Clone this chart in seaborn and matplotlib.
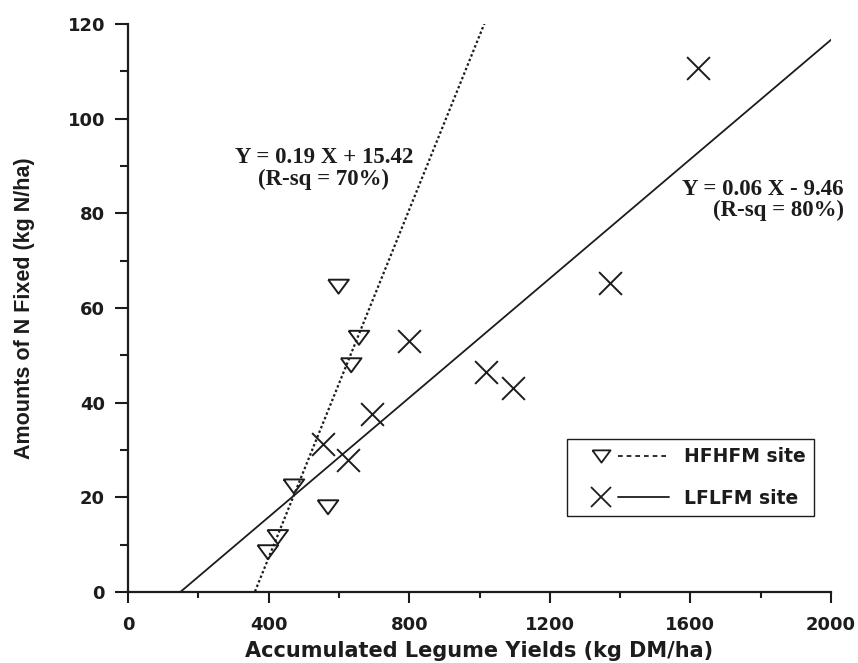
import matplotlib
matplotlib.use("Agg")
import matplotlib.pyplot as plt
import seaborn as sns
from matplotlib.lines import Line2D
from matplotlib.legend_handler import HandlerTuple
from matplotlib.ticker import MultipleLocator

# Accumulated legume yield (kg DM/ha) and N fixed (kg N/ha) per site
hfhfm_yield = [599, 657, 635, 472, 569, 426, 398]
hfhfm_nfix = [64.5, 53.7, 47.9, 22.3, 17.9, 11.6, 8.4]
lflfm_yield = [799, 694, 555, 626, 1370, 1018, 1096, 1621]
lflfm_nfix = [53.0, 37.6, 31.3, 27.8, 65.2, 46.4, 43.1, 110.8]

x_ticks = [0, 400, 800, 1200, 1600, 2000]
y_ticks = [0, 20, 40, 60, 80, 100, 120]
site_labels = ["HFHFM site", "LFLFM site"]
eq_hfhfm = "Y = 0.19 X + 15.42\n(R-sq = 70%)"
eq_lflfm = "Y = 0.06 X - 9.46\n(R-sq = 80%)"
x_title = "Accumulated Legume Yields (kg DM/ha)"
y_title = "Amounts of N Fixed (kg N/ha)"

sns.set_theme(style="ticks")
plt.rcParams["font.family"] = ["DejaVu Sans"]

ink = "#1c1c1c"
W, H = 858, 663
fig = plt.figure(figsize=(W / 100, H / 100), dpi=100)
ax = fig.add_axes([128 / W, 1 - 592 / H, (831 - 128) / W, (592 - 24) / H])
ax.set_xlim(0, 2000)
ax.set_ylim(0, 120)

# flattened, downward-pointing triangle
tri = [(-1, 0.68), (1, 0.68), (0, -0.68), (-1, 0.68)]

sns.regplot(x=hfhfm_yield, y=hfhfm_nfix, ax=ax, ci=None, truncate=False,
            marker=tri, color=ink,
            scatter_kws=dict(s=220, facecolors="none", edgecolors=ink,
                             linewidths=1.4, alpha=1, zorder=3),
            line_kws=dict(linewidth=1.6, linestyle=(0, (1.1, 1.1)), zorder=2))
sns.regplot(x=lflfm_yield, y=lflfm_nfix, ax=ax, ci=None, truncate=False,
            marker="x", color=ink,
            scatter_kws=dict(s=270, linewidths=1.4, alpha=1, zorder=3),
            line_kws=dict(linewidth=1.3, zorder=2))

ax.set_xlim(0, 2000)
ax.set_ylim(0, 120)
ax.set_xticks(x_ticks)
ax.set_yticks(y_ticks)
ax.xaxis.set_minor_locator(MultipleLocator(200))
ax.yaxis.set_minor_locator(MultipleLocator(10))

for side in ("top", "right"):
    ax.spines[side].set_visible(False)
for side in ("left", "bottom"):
    ax.spines[side].set_linewidth(1.6)
    ax.spines[side].set_color(ink)

ax.tick_params(axis="x", which="major", direction="out", length=8, width=1.5,
               color=ink, pad=9, labelsize=13, labelcolor=ink)
ax.tick_params(axis="x", which="minor", direction="out", length=4.5, width=1.5,
               color=ink)
ax.tick_params(axis="y", which="major", direction="out", length=9.5, width=1.5,
               color=ink, pad=7, labelsize=13, labelcolor=ink)
ax.tick_params(axis="y", which="minor", direction="out", length=6, width=1.5,
               color=ink)
for lab in ax.get_xticklabels() + ax.get_yticklabels():
    lab.set_fontweight("bold")

ax.set_xlabel(x_title, fontsize=15, fontweight="bold", color=ink)
ax.xaxis.set_label_coords(0.5, (592 - 641) / 568)
ax.set_ylabel(y_title, fontsize=15.5, fontweight="bold",
              family=["Liberation Sans", "DejaVu Sans"], color=ink)
ax.yaxis.set_label_coords((35 - 128) / 703, 0.5)

serif = ["Liberation Serif", "DejaVu Serif"]
fig.text(324 / W, 1 - 168.5 / H, eq_hfhfm, ha="center", va="center",
         multialignment="center", family=serif, fontweight="bold",
         fontsize=16.5, color=ink, linespacing=1.0)
fig.text(844 / W, 1 - 200 / H, eq_lflfm, ha="right", va="center",
         multialignment="right", family=serif, fontweight="bold",
         fontsize=16.5, color=ink, linespacing=1.0)

# legend: marker and line sample drawn side by side
h_tri_m = Line2D([], [], marker=tri, ms=13, mfc="none", mec=ink, mew=1.3,
                 ls="none")
h_tri_l = Line2D([], [], color=ink, lw=1.3, ls=(0, (2.6, 2.2)))
h_x_m = Line2D([], [], marker="x", ms=15, mec=ink, mew=1.3, ls="none")
h_x_l = Line2D([], [], color=ink, lw=1.3)
leg = ax.legend([(h_tri_m, h_tri_l), (h_x_m, h_x_l)], site_labels,
                handler_map={tuple: HandlerTuple(ndivide=None, pad=-0.45)},
                loc="upper left", bbox_to_anchor=(567 / W, 1 - 439 / H),
                bbox_transform=fig.transFigure, borderaxespad=0,
                frameon=True, fancybox=False, shadow=False,
                handlelength=5.0, handletextpad=0.8, labelspacing=1.2,
                borderpad=0.45,
                prop=dict(family="DejaVu Sans", weight="bold", size=13.5))
leg.get_frame().set_edgecolor(ink)
leg.get_frame().set_linewidth(1.0)
leg.get_frame().set_facecolor("white")
leg.get_frame().set_alpha(1)
for t in leg.get_texts():
    t.set_color(ink)

fig.savefig("out.png", dpi=100, facecolor="white")
